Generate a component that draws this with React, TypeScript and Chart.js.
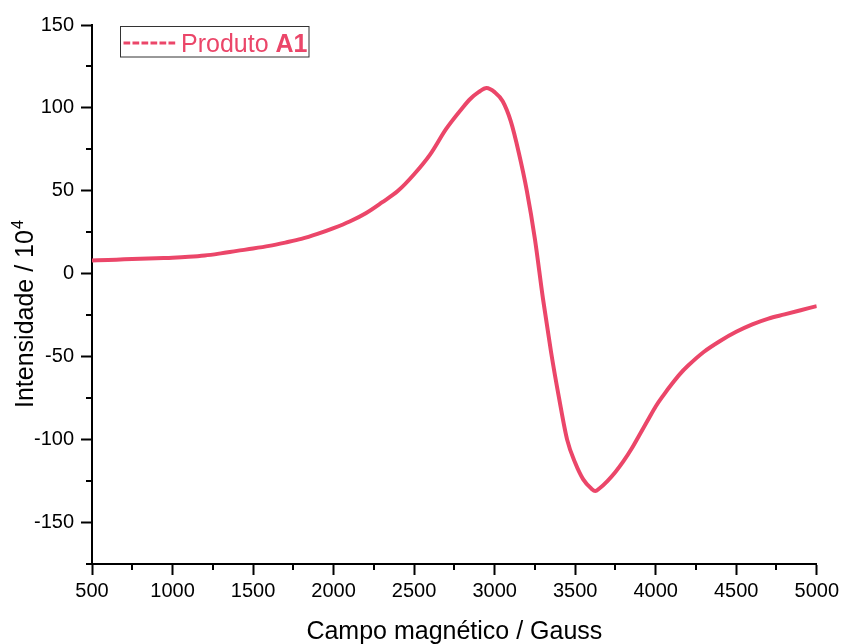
import React, { useEffect, useRef } from 'react';
import { Chart, registerables } from 'chart.js';

Chart.register(...registerables);

// Magnetic field (Gauss)
const fieldGauss = [
  500, 600, 700, 800, 900, 1000, 1100, 1200, 1300, 1400, 1500, 1600, 1700, 1800, 1900,
  2000, 2100, 2200, 2300, 2400, 2500, 2600, 2700, 2800, 2850, 2900, 2950, 3000, 3050,
  3100, 3150, 3200, 3250, 3300, 3350, 3400, 3450, 3500, 3550, 3600, 3625, 3650, 3700, 3750,
  3800, 3850, 3900, 3950, 4000, 4050, 4100, 4150, 4200, 4300, 4400, 4500, 4600, 4700, 4800, 4900, 5000,
];
// Intensity (/10^4)
const intensity = [
  8, 8.3, 8.7, 9, 9.4, 9.7, 10.2, 11, 12.3, 13.8, 15.2, 16.8, 18.8, 21, 24,
  27.5, 31.5, 36.5, 43, 50, 60, 72, 87.5, 100, 105.5, 109.5, 112, 109.5, 104,
  92, 73, 50, 21, -15, -47, -75, -100, -114, -124, -129.5, -131, -129.5, -125, -119.5,
  -113, -105.5, -97, -88.5, -80, -73, -66.5, -60.5, -55.5, -47, -40.5, -35, -30.5, -27, -24.5, -22, -19.5,
];

const xTickValues = [500, 750, 1000, 1250, 1500, 1750, 2000, 2250, 2500, 2750, 3000, 3250, 3500, 3750, 4000, 4250, 4500, 4750, 5000];
const xMajorLabels = [500, 1000, 1500, 2000, 2500, 3000, 3500, 4000, 4500, 5000];
const yTickValues = [-175, -150, -125, -100, -75, -50, -25, 0, 25, 50, 75, 100, 125, 150];
const yMajorLabels = [-150, -100, -50, 0, 50, 100, 150];

const seriesLabel = 'Produto';
const seriesLabelBold = 'A1';
const xTitle = 'Campo magnético / Gauss';
const yTitle = 'Intensidade / 10';
const yTitleSup = '4';

const LINE_COLOR = 'rgb(235, 70, 105)';
const FONT = '"Liberation Sans", Arial, sans-serif';

const decorPlugin = {
  id: 'decor',
  afterDraw(chart: any) {
    const ctx = chart.ctx as CanvasRenderingContext2D;
    const xs = chart.scales.x;
    const ys = chart.scales.y;
    const area = chart.chartArea;
    ctx.save();
    // minor ticks
    ctx.strokeStyle = '#000';
    ctx.lineWidth = 2;
    ctx.beginPath();
    xTickValues.forEach((v) => {
      if (xMajorLabels.includes(v)) return;
      const px = Math.round(xs.getPixelForValue(v));
      ctx.moveTo(px, area.bottom);
      ctx.lineTo(px, area.bottom + 6);
    });
    yTickValues.forEach((v) => {
      if (yMajorLabels.includes(v)) return;
      const py = Math.round(ys.getPixelForValue(v));
      ctx.moveTo(area.left, py);
      ctx.lineTo(area.left - 6, py);
    });
    ctx.stroke();

    // x title
    ctx.fillStyle = '#000';
    ctx.font = `25px ${FONT}`;
    ctx.textAlign = 'center';
    ctx.textBaseline = 'alphabetic';
    ctx.fillText(xTitle, (area.left + area.right) / 2, 639);

    // y title (rotated) with superscript
    ctx.save();
    ctx.translate(33, 408);
    ctx.rotate(-Math.PI / 2);
    ctx.textAlign = 'left';
    ctx.font = `25px ${FONT}`;
    ctx.fillText(yTitle, 0, 0);
    const w = ctx.measureText(yTitle).width;
    ctx.font = `16px ${FONT}`;
    ctx.fillText(yTitleSup, w + 1, -10);
    ctx.restore();

    // legend box
    ctx.strokeStyle = '#333';
    ctx.lineWidth = 1;
    ctx.strokeRect(120.5, 26.5, 188.5, 30.5);
    ctx.strokeStyle = LINE_COLOR;
    ctx.lineWidth = 3;
    ctx.setLineDash([6.7, 2.3]);
    ctx.beginPath();
    ctx.moveTo(123.5, 43);
    ctx.lineTo(175.5, 43);
    ctx.stroke();
    ctx.setLineDash([]);
    ctx.fillStyle = LINE_COLOR;
    ctx.textAlign = 'left';
    ctx.font = `25px ${FONT}`;
    const t1 = seriesLabel + ' ';
    ctx.fillText(t1, 181, 51.7);
    const w1 = ctx.measureText(t1).width;
    ctx.font = `bold 25px ${FONT}`;
    ctx.fillText(seriesLabelBold, 181 + w1, 51.7);
    ctx.restore();
  },
};

export default function App() {
  const ref = useRef<HTMLCanvasElement | null>(null);
  useEffect(() => {
    if (!ref.current) return;
    const chart = new Chart(ref.current, {
      type: 'line',
      data: {
        datasets: [
          {
            label: seriesLabel + ' ' + seriesLabelBold,
            data: fieldGauss.map((x, i) => ({ x, y: intensity[i] })),
            borderColor: LINE_COLOR,
            backgroundColor: LINE_COLOR,
            borderWidth: 4,
            pointRadius: 0,
            fill: false,
            cubicInterpolationMode: 'monotone',
          },
        ],
      },
      options: {
        responsive: false,
        animation: false,
        devicePixelRatio: 1,
        layout: { padding: { left: 0, top: 25, right: 25, bottom: 0 } },
        plugins: { legend: { display: false }, tooltip: { enabled: false } },
        scales: {
          x: {
            type: 'linear',
            min: 500,
            max: 5000,
            afterBuildTicks: (s: any) => {
              s.ticks = xTickValues.map((v) => ({ value: v }));
            },
            afterFit: (s: any) => {
              s.height = 80;
            },
            grid: {
              display: true,
              drawOnChartArea: false,
              drawTicks: true,
              tickLength: 11,
              tickWidth: 2,
              tickColor: (c: any) => (c.tick && xMajorLabels.includes(c.tick.value) ? '#000' : 'rgba(0,0,0,0)'),
            },
            border: { display: true, color: '#000', width: 2 },
            ticks: {
              autoSkip: false,
              maxRotation: 0,
              padding: 4,
              color: '#000',
              font: { family: FONT, size: 20 },
              callback: (v: any) => (xMajorLabels.includes(Number(v)) ? String(v) : ''),
            },
          },
          y: {
            type: 'linear',
            min: -175,
            max: 150,
            afterBuildTicks: (s: any) => {
              s.ticks = yTickValues.map((v) => ({ value: v }));
            },
            afterFit: (s: any) => {
              s.width = 92;
            },
            grid: {
              display: true,
              drawOnChartArea: false,
              drawTicks: true,
              tickLength: 11,
              tickWidth: 2,
              tickColor: (c: any) => (c.tick && yMajorLabels.includes(c.tick.value) ? '#000' : 'rgba(0,0,0,0)'),
            },
            border: { display: true, color: '#000', width: 2 },
            ticks: {
              autoSkip: false,
              padding: 7,
              color: '#000',
              font: { family: FONT, size: 20 },
              callback: (v: any) => (yMajorLabels.includes(Number(v)) ? String(v) : ''),
            },
          },
        },
      },
      plugins: [decorPlugin],
    } as any);
    return () => chart.destroy();
  }, []);
  return (
    <div style={{ position: 'absolute', left: 0, top: 0, width: 843, height: 644, background: '#fff' }}>
      <canvas ref={ref} width={843} height={644} style={{ display: 'block' }} />
    </div>
  );
}
